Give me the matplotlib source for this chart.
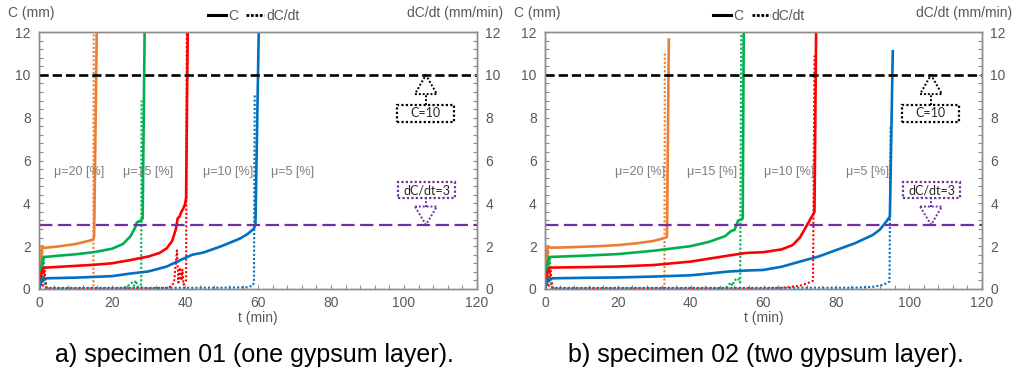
import matplotlib
matplotlib.use("Agg")
import matplotlib.pyplot as plt
from matplotlib.lines import Line2D
from matplotlib.patches import Polygon, Rectangle
from matplotlib.ticker import MultipleLocator

plt.rcParams['font.family'] = ['Liberation Sans', 'DejaVu Sans']

# ---------------- data: specimen 01 ----------------
a_or_t = [0, 0.4, 0.9, 1.3, 5, 10, 14.8, 15.1, 15.9]
a_or_C = [0, 1.2, 2.0, 1.92, 1.98, 2.1, 2.3, 2.45, 13]
a_gr_t = [0, 0.6, 1.2, 1.8, 5, 10, 15, 20, 23, 25, 26.3, 26.8, 27.2, 28.0, 28.4, 29.0]
a_gr_C = [0, 1.0, 1.48, 1.5, 1.55, 1.62, 1.72, 1.88, 2.1, 2.45, 2.85, 3.1, 3.15, 3.2, 3.3, 13]
a_rd_t = [0, 0.6, 1.2, 2, 5, 10, 15, 20, 25, 30, 33, 35, 36.5, 37.5, 38, 38.5, 39, 39.5, 40, 40.3, 40.8]
a_rd_C = [0, 0.7, 0.98, 1.0, 1.03, 1.08, 1.13, 1.2, 1.35, 1.52, 1.68, 1.9, 2.25, 2.8, 3.3, 3.38, 3.6, 3.75, 3.95, 4.25, 13]
a_bl_t = [0, 0.6, 1.2, 2, 10, 20, 25, 30, 35, 40, 42, 45, 50, 55, 57, 58.8, 59.3, 60.3]
a_bl_C = [0, 0.4, 0.48, 0.5, 0.53, 0.6, 0.72, 0.82, 1.05, 1.45, 1.6, 1.7, 2.0, 2.35, 2.55, 2.8, 3.0, 13]

a_or_dt = [0, 0.3, 0.6, 0.9, 1.2, 2, 10, 14.6, 14.9, 15.0]
a_or_dv = [0, 2.0, 0.5, 1.8, 0.05, 0.02, 0.02, 0.03, 0.1, 13]
a_gr_dt = [0, 0.8, 1.3, 1.7, 2.2, 10, 22, 24, 25.5, 26, 26.5, 27, 27.8, 28.0, 28.1]
a_gr_dv = [0, 0.3, 1.4, 0.4, 0.02, 0.02, 0.03, 0.1, 0.3, 0.15, 0.4, 0.1, 0.15, 0.3, 8.8]
a_rd_dt = [0, 1.0, 1.5, 2.0, 10, 30, 35, 36, 37, 37.8, 38.2, 38.6, 39, 39.3, 39.6, 40, 40.3, 40.5]
a_rd_dv = [0, 0.2, 0.9, 0.02, 0.02, 0.03, 0.05, 0.1, 0.3, 1.8, 0.3, 1.0, 0.4, 0.9, 0.2, 0.3, 0.4, 13]
a_bl_dt = [0, 0.8, 1.3, 2.0, 10, 30, 50, 57, 58.5, 58.9, 59.1]
a_bl_dv = [0, 0.3, 0.5, 0.05, 0.05, 0.05, 0.06, 0.08, 0.15, 0.3, 9.05]

# ---------------- data: specimen 02 ----------------
b_or_t = [0, 0.4, 0.8, 1.5, 5, 10, 15, 20, 25, 30, 33.2, 33.5, 34.0]
b_or_C = [0, 1.3, 2.0, 1.93, 1.94, 1.97, 2.0, 2.05, 2.13, 2.25, 2.4, 2.45, 11.65]
b_gr_t = [0, 0.5, 1.1, 2, 10, 20, 30, 40, 45, 48, 49.5, 50.5, 51.2, 52, 52.5, 53, 54, 54.3, 54.6]
b_gr_C = [0, 1.0, 1.48, 1.5, 1.55, 1.63, 1.79, 2.0, 2.2, 2.38, 2.47, 2.62, 2.72, 2.75, 2.95, 3.19, 3.25, 3.3, 13]
b_rd_t = [0, 0.5, 1.1, 2, 10, 20, 30, 40, 50, 55, 60, 65, 68, 70, 72, 73.5, 74.0, 74.5]
b_rd_C = [0, 0.7, 0.97, 1.0, 1.02, 1.05, 1.12, 1.28, 1.55, 1.68, 1.72, 1.85, 2.05, 2.4, 3.0, 3.45, 3.6, 13]
b_bl_t = [0, 0.5, 1.1, 2, 10, 20, 30, 40, 45, 50, 55, 60, 65, 70, 75, 80, 85, 90, 92, 93.5, 94.7, 95.5]
b_bl_C = [0, 0.35, 0.47, 0.5, 0.52, 0.54, 0.58, 0.64, 0.72, 0.81, 0.86, 0.89, 1.04, 1.28, 1.51, 1.82, 2.13, 2.52, 2.78, 3.1, 3.38, 11.1]

b_or_dt = [0, 0.3, 0.6, 0.9, 1.2, 2, 10, 32.5, 32.8, 32.9]
b_or_dv = [0, 2.0, 0.5, 1.8, 0.05, 0.02, 0.02, 0.03, 0.1, 11.0]
b_gr_dt = [0, 0.8, 1.3, 1.7, 2.2, 10, 48, 49, 50, 51, 51.5, 52, 53, 53.6, 53.9]
b_gr_dv = [0, 0.3, 1.4, 0.4, 0.02, 0.02, 0.03, 0.05, 0.1, 0.3, 0.15, 0.4, 0.5, 0.3, 13]
b_rd_dt = [0, 1.0, 1.5, 2.0, 10, 60, 65, 70, 73.3, 73.6, 74.0]
b_rd_dv = [0, 0.2, 0.9, 0.02, 0.02, 0.02, 0.05, 0.15, 0.35, 0.4, 10.9]
b_bl_dt = [0, 0.8, 1.3, 2.0, 10, 50, 85, 90, 93, 94.6, 94.9]
b_bl_dv = [0, 0.3, 0.5, 0.05, 0.05, 0.05, 0.06, 0.1, 0.2, 0.35, 7.6]

mu_labels = ["μ=20 [%]", "μ=15 [%]", "μ=10 [%]", "μ=5 [%]"]
a_mu_x = [11, 30, 51.8, 69.4]
b_mu_x = [26, 46, 67, 88.5]
captions = ["a) specimen 01 (one gypsum layer).", "b) specimen 02 (two gypsum layer)."]
C_limit = 10
rate_limit = 3

colors = ['#ED7D31', '#00B050', '#FF0000', '#0070C0']
GRAY = '#595959'
SPINE = '#8c8c8c'

W, H = 1014, 369
fig = plt.figure(figsize=(W / 100, H / 100), dpi=100)

panels = [
    dict(left=39, right=477,
         C=[(a_or_t, a_or_C), (a_gr_t, a_gr_C), (a_rd_t, a_rd_C), (a_bl_t, a_bl_C)],
         D=[(a_or_dt, a_or_dv), (a_gr_dt, a_gr_dv), (a_rd_dt, a_rd_dv), (a_bl_dt, a_bl_dv)],
         mu=a_mu_x, rlab=1.059, cap=254),
    dict(left=545, right=982,
         C=[(b_or_t, b_or_C), (b_gr_t, b_gr_C), (b_rd_t, b_rd_C), (b_bl_t, b_bl_C)],
         D=[(b_or_dt, b_or_dv), (b_gr_dt, b_gr_dv), (b_rd_dt, b_rd_dv), (b_bl_dt, b_bl_dv)],
         mu=b_mu_x, rlab=1.069, cap=766),
]

top_px, bot_px = 32, 289
for i, p in enumerate(panels):
    ax = fig.add_axes([p['left'] / W, (H - bot_px) / H,
                       (p['right'] - p['left']) / W, (bot_px - top_px) / H])
    ax.set_xlim(0, 120)
    ax.set_ylim(0, 12)
    for (t, v), c in zip(p['D'], colors):
        ax.plot(t, v, color=c, lw=1.5, ls=(0, (1, 1)), zorder=2)
    for (t, v), c in zip(p['C'], colors):
        ax.plot(t, v, color=c, lw=1.9, zorder=3, solid_joinstyle='round')
    ax.axhline(C_limit, color='black', lw=1.9, ls=(0, (3.5, 1.5)), zorder=4)
    ax.axhline(rate_limit, color='#7030A0', lw=1.6, ls=(0, (6, 2.5)), zorder=4)

    for lab, x in zip(mu_labels, p['mu']):
        ax.text(x, 5.48, lab, color='#7f7f7f', fontsize=9, ha='center', va='center', zorder=5)

    # C=10 annotation
    ax.add_patch(Rectangle((98, 7.8), 15.6, 0.8, fill=True, fc='white', ec='black',
                           lw=1.6, ls=(0, (1, 1)), zorder=6))
    ax.text(105.8, 8.2, "C=10", fontsize=9, family=['Lato', 'DejaVu Sans'], color='#262626',
            ha='center', va='center', zorder=7)
    ax.add_patch(Polygon([(103, 9.1), (109, 9.1), (106, 10.0)], closed=True, fill=False,
                         ec='black', lw=1.4, ls=(0, (1, 1)), zorder=6))
    ax.plot([106, 106], [8.6, 9.1], color='black', lw=1.4, ls=(0, (1, 1)), zorder=6)

    # dC/dt=3 annotation
    ax.add_patch(Rectangle((98.4, 4.25), 15.6, 0.75, fill=True, fc='white', ec='#7030A0',
                           lw=1.6, ls=(0, (1, 1)), zorder=6))
    ax.text(106.2, 4.62, "dC/dt=3", fontsize=9, family=['Lato', 'DejaVu Sans'], color='#262626',
            ha='center', va='center', zorder=7)
    ax.add_patch(Polygon([(103, 3.85), (109, 3.85), (106, 3.0)], closed=True, fill=False,
                         ec='#7030A0', lw=1.4, ls=(0, (1, 1)), zorder=6))
    ax.plot([106, 106], [3.85, 4.25], color='#7030A0', lw=1.4, ls=(0, (1, 1)), zorder=6)

    ax.xaxis.set_major_locator(MultipleLocator(20))
    ax.xaxis.set_minor_locator(MultipleLocator(4))
    ax.yaxis.set_major_locator(MultipleLocator(2))
    ax.yaxis.set_minor_locator(MultipleLocator(0.4))
    ax.tick_params(which='both', direction='in', color=SPINE, labelcolor=GRAY,
                   labelsize=10, length=3, width=0.8)
    ax.tick_params(axis='x', pad=5)
    ax.tick_params(axis='y', pad=6)
    for s in ax.spines.values():
        s.set_color(SPINE)
        s.set_linewidth(1.0)

    ax2 = ax.twinx()
    ax2.set_ylim(0, 12)
    ax2.yaxis.set_major_locator(MultipleLocator(2))
    ax2.yaxis.set_minor_locator(MultipleLocator(0.4))
    ax2.tick_params(which='both', direction='in', color=SPINE, labelcolor=GRAY,
                    labelsize=10, length=3, width=0.8, pad=6)
    for s in ax2.spines.values():
        s.set_color(SPINE)
        s.set_linewidth(1.0)

    ax.set_xlabel("t (min)", color=GRAY, fontsize=10, labelpad=1)
    ax.text(-0.071, 1.074, "C (mm)", transform=ax.transAxes, color=GRAY, fontsize=10,
            ha='left', va='center')
    ax.text(p['rlab'], 1.074, "dC/dt (mm/min)", transform=ax.transAxes, color=GRAY,
            fontsize=10, ha='right', va='center')

    handles = [Line2D([], [], color='black', lw=2.2),
               Line2D([], [], color='black', lw=2.0, ls=(0, (1, 0.6)))]
    ax.legend(handles, ["C", "dC/dt"], loc='center left', bbox_to_anchor=(0.385, 1.062),
              ncol=2, frameon=False, fontsize=10, handlelength=1.3, handletextpad=0.15,
              columnspacing=0.6, labelcolor=GRAY, borderaxespad=0, borderpad=0)

    fig.text(p['cap'] / W, (H - 355) / H, captions[i], fontsize=18, color='black',
             ha='center', va='center')

fig.savefig("out.png", dpi=100)
